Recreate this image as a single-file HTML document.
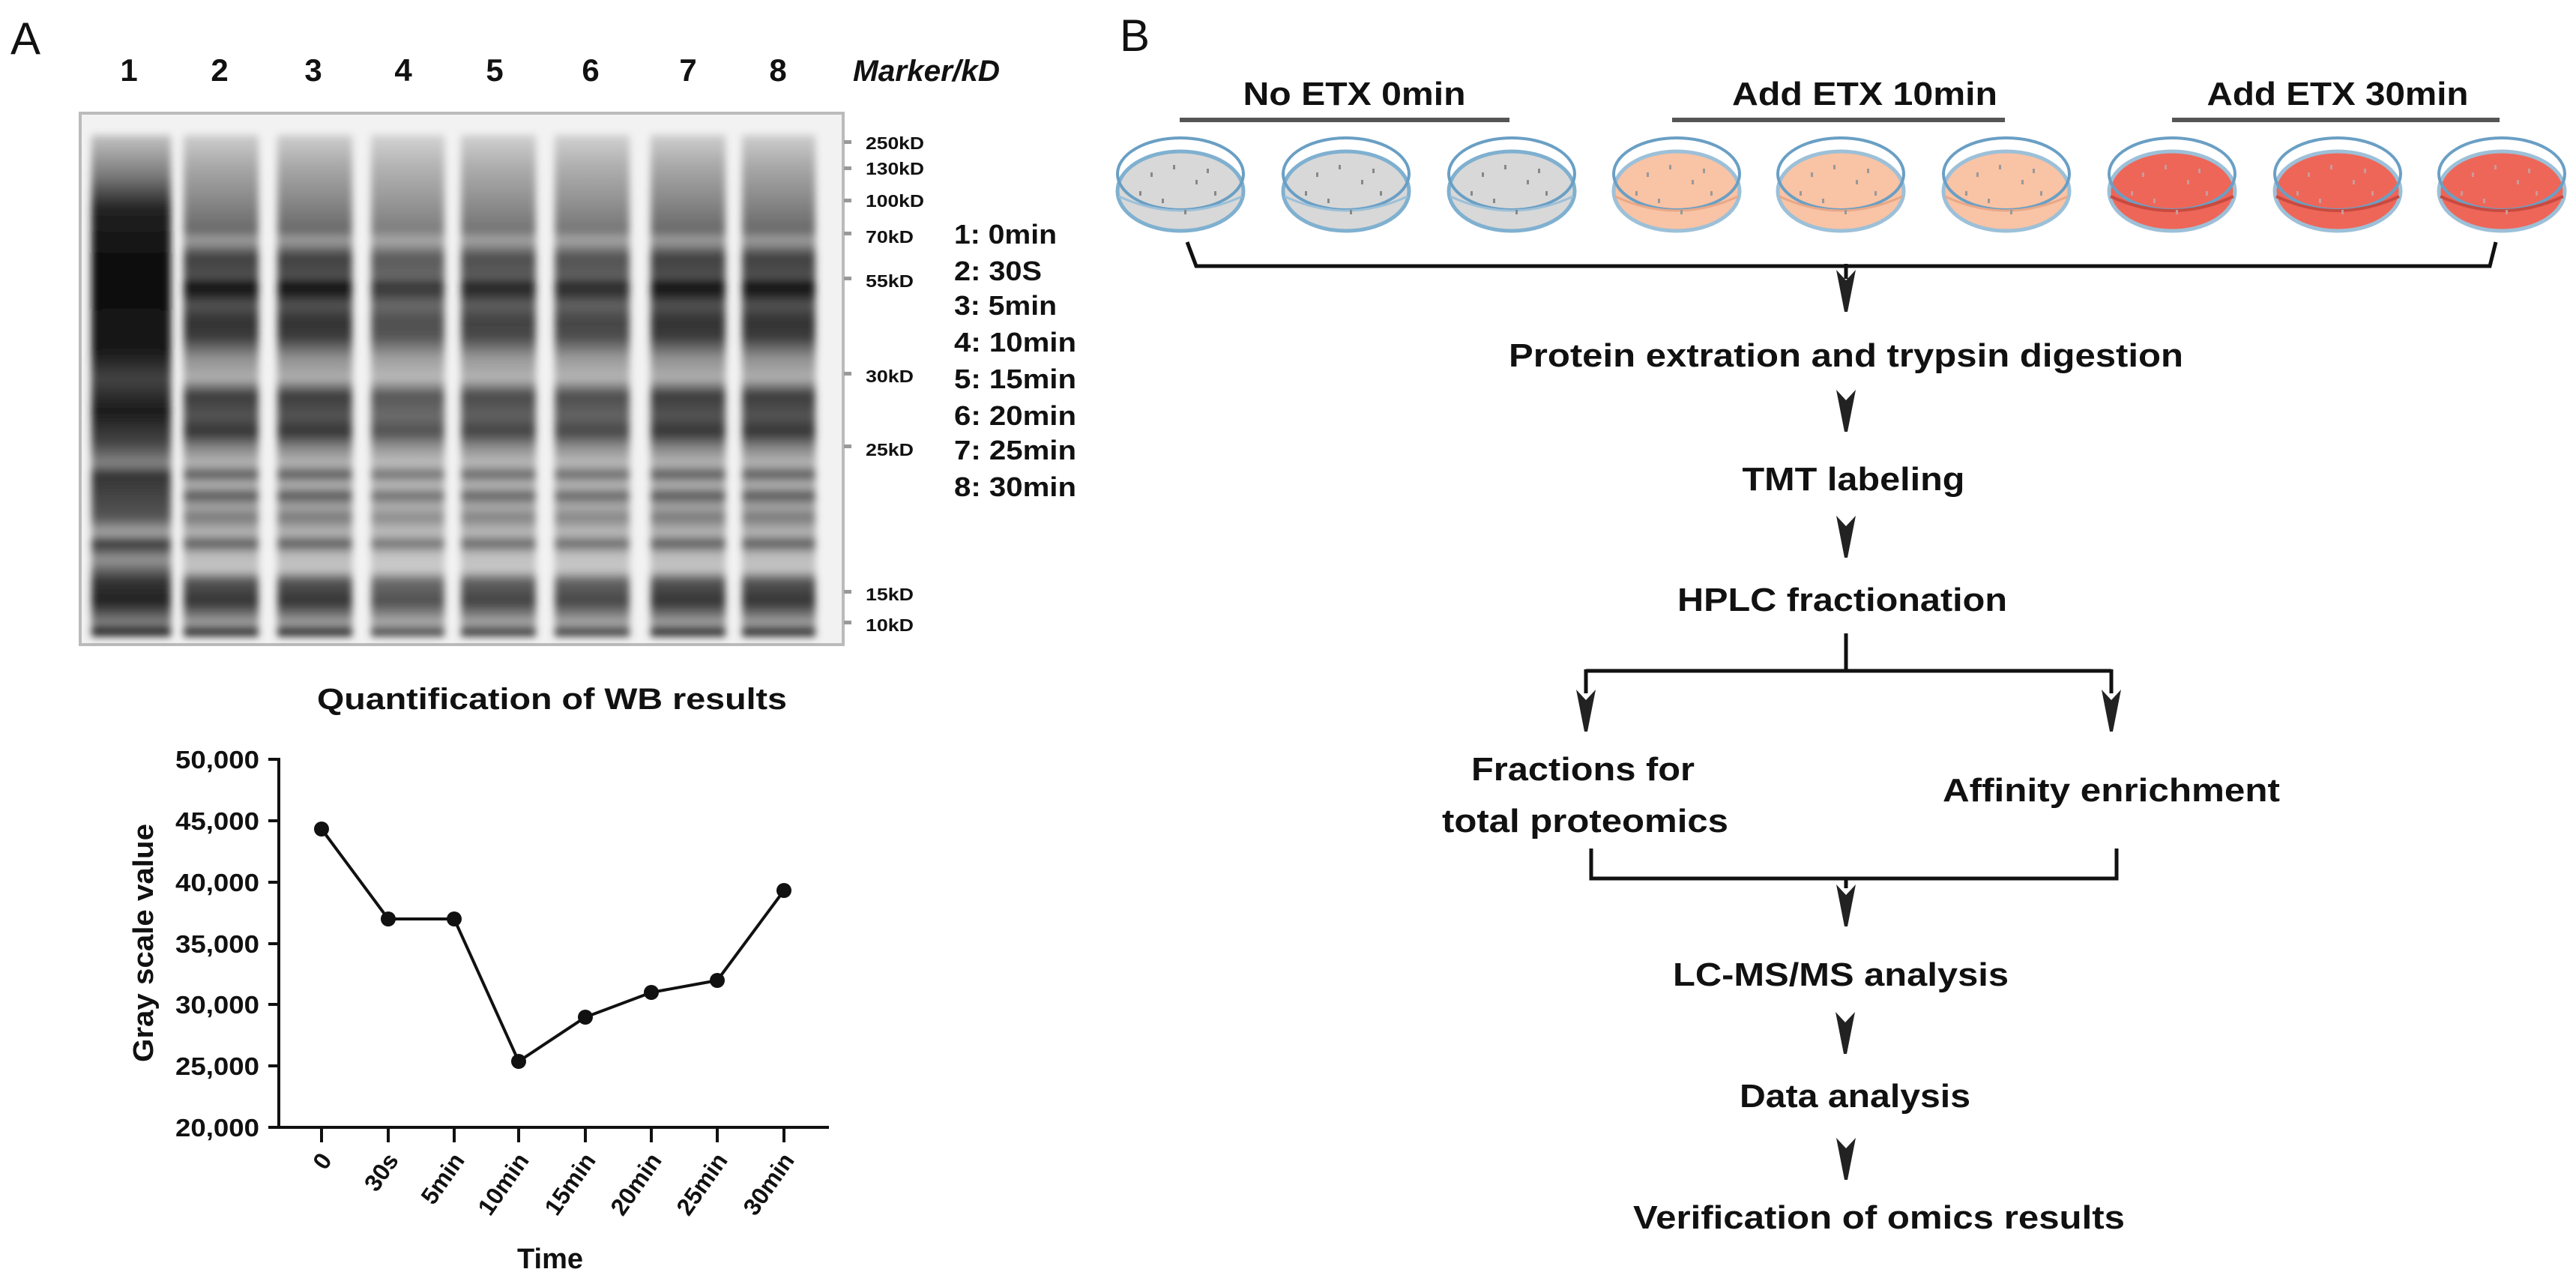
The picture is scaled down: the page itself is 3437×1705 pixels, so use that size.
<!DOCTYPE html>
<html><head><meta charset="utf-8"><style>
html,body{margin:0;padding:0;background:#fff;}
svg{display:block;}
text{font-family:"Liberation Sans",Arial,sans-serif;font-weight:bold;fill:#111;}
</style></head><body>
<svg width="3437" height="1705" viewBox="0 0 3437 1705" xmlns="http://www.w3.org/2000/svg">
<defs>
<linearGradient id="lane" x1="0" y1="0" x2="0" y2="1" gradientUnits="userSpaceOnUse" gradientTransform="translate(0,151) scale(1,709)">
<stop offset="0" stop-color="#f4f4f4"/>
<stop offset="0.04" stop-color="#cfcfcf"/>
<stop offset="0.10" stop-color="#a8a8a8"/>
<stop offset="0.16" stop-color="#8a8a8a"/>
<stop offset="0.22" stop-color="#6a6a6a"/>
<stop offset="0.24" stop-color="#a0a0a0"/>
<stop offset="0.27" stop-color="#404040"/>
<stop offset="0.31" stop-color="#505050"/>
<stop offset="0.32" stop-color="#141414"/>
<stop offset="0.34" stop-color="#202020"/>
<stop offset="0.36" stop-color="#555"/>
<stop offset="0.39" stop-color="#333"/>
<stop offset="0.42" stop-color="#3a3a3a"/>
<stop offset="0.46" stop-color="#909090"/>
<stop offset="0.50" stop-color="#b0b0b0"/>
<stop offset="0.53" stop-color="#3a3a3a"/>
<stop offset="0.57" stop-color="#555"/>
<stop offset="0.60" stop-color="#333"/>
<stop offset="0.63" stop-color="#888"/>
<stop offset="0.66" stop-color="#b8b8b8"/>
<stop offset="0.68" stop-color="#555"/>
<stop offset="0.70" stop-color="#bbb"/>
<stop offset="0.72" stop-color="#505050"/>
<stop offset="0.74" stop-color="#aaa"/>
<stop offset="0.76" stop-color="#777"/>
<stop offset="0.79" stop-color="#bbb"/>
<stop offset="0.81" stop-color="#555"/>
<stop offset="0.83" stop-color="#bbb"/>
<stop offset="0.86" stop-color="#c4c4c4"/>
<stop offset="0.88" stop-color="#555"/>
<stop offset="0.92" stop-color="#333"/>
<stop offset="0.95" stop-color="#888"/>
<stop offset="0.96" stop-color="#aaa"/>
<stop offset="0.975" stop-color="#222"/>
<stop offset="0.99" stop-color="#777"/>
<stop offset="1" stop-color="#ddd"/>
</linearGradient>
<linearGradient id="lane1" x1="0" y1="0" x2="0" y2="1" gradientUnits="userSpaceOnUse" gradientTransform="translate(0,151) scale(1,709)">
<stop offset="0" stop-color="#eee"/>
<stop offset="0.05" stop-color="#bbb"/>
<stop offset="0.12" stop-color="#777"/>
<stop offset="0.18" stop-color="#222"/>
<stop offset="0.30" stop-color="#0a0a0a"/>
<stop offset="0.45" stop-color="#1a1a1a"/>
<stop offset="0.50" stop-color="#444"/>
<stop offset="0.56" stop-color="#1a1a1a"/>
<stop offset="0.62" stop-color="#444"/>
<stop offset="0.66" stop-color="#888"/>
<stop offset="0.68" stop-color="#333"/>
<stop offset="0.72" stop-color="#444"/>
<stop offset="0.76" stop-color="#555"/>
<stop offset="0.79" stop-color="#aaa"/>
<stop offset="0.81" stop-color="#333"/>
<stop offset="0.84" stop-color="#999"/>
<stop offset="0.88" stop-color="#333"/>
<stop offset="0.92" stop-color="#222"/>
<stop offset="0.96" stop-color="#888"/>
<stop offset="0.975" stop-color="#111"/>
<stop offset="1" stop-color="#ccc"/>
</linearGradient>
<filter id="blur" x="-10%" y="-5%" width="120%" height="110%"><feGaussianBlur stdDeviation="5"/></filter>
<g id="arrow"><path d="M-13,0 L0,14 L13,0 L2,56 L-2,56 Z" fill="#222"/></g>
</defs>

<!-- Panel A -->
<text x="14" y="72" font-size="60" style="font-weight:normal">A</text>
<g font-size="42" style="font-weight:normal" text-anchor="middle">
<text x="172" y="108">1</text><text x="293" y="108">2</text><text x="418" y="108">3</text><text x="538" y="108">4</text>
<text x="660" y="108">5</text><text x="788" y="108">6</text><text x="918" y="108">7</text><text x="1038" y="108">8</text>
</g>
<text x="1138" y="108" font-size="40" font-style="italic" textLength="196" lengthAdjust="spacingAndGlyphs">Marker/kD</text>

<!-- gel -->
<rect x="107" y="151" width="1018" height="709" fill="#f2f2f2" stroke="#bbb" stroke-width="4"/>
<g filter="url(#blur)">
<rect x="122" y="180" width="106" height="670" fill="url(#lane1)"/>
<rect x="245" y="180" width="100" height="670" fill="url(#lane)"/>
<rect x="370" y="180" width="100" height="670" fill="url(#lane)"/>
<rect x="495" y="180" width="98" height="670" fill="url(#lane)" opacity="0.85"/>
<rect x="615" y="180" width="100" height="670" fill="url(#lane)" opacity="0.92"/>
<rect x="740" y="180" width="100" height="670" fill="url(#lane)" opacity="0.9"/>
<rect x="868" y="180" width="100" height="670" fill="url(#lane)"/>
<rect x="990" y="180" width="98" height="670" fill="url(#lane)"/>
</g>
<g fill="#999">
<rect x="1126" y="187" width="10" height="5"/><rect x="1126" y="222" width="10" height="5"/><rect x="1126" y="265" width="10" height="5"/>
<rect x="1126" y="309" width="10" height="5"/><rect x="1126" y="369" width="10" height="5"/><rect x="1126" y="496" width="10" height="5"/>
<rect x="1126" y="593" width="10" height="5"/><rect x="1126" y="787" width="10" height="5"/><rect x="1126" y="828" width="10" height="5"/>
</g>
<g font-size="23" fill="#222">
<text x="1155" y="199" textLength="78" lengthAdjust="spacingAndGlyphs">250kD</text>
<text x="1155" y="233" textLength="78" lengthAdjust="spacingAndGlyphs">130kD</text>
<text x="1155" y="276" textLength="78" lengthAdjust="spacingAndGlyphs">100kD</text>
<text x="1155" y="324" textLength="64" lengthAdjust="spacingAndGlyphs">70kD</text>
<text x="1155" y="383" textLength="64" lengthAdjust="spacingAndGlyphs">55kD</text>
<text x="1155" y="510" textLength="64" lengthAdjust="spacingAndGlyphs">30kD</text>
<text x="1155" y="608" textLength="64" lengthAdjust="spacingAndGlyphs">25kD</text>
<text x="1155" y="801" textLength="64" lengthAdjust="spacingAndGlyphs">15kD</text>
<text x="1155" y="842" textLength="64" lengthAdjust="spacingAndGlyphs">10kD</text>
</g>
<g font-size="36">
<text x="1273" y="325" textLength="137" lengthAdjust="spacingAndGlyphs">1: 0min</text>
<text x="1273" y="374" textLength="117" lengthAdjust="spacingAndGlyphs">2: 30S</text>
<text x="1273" y="420" textLength="137" lengthAdjust="spacingAndGlyphs">3: 5min</text>
<text x="1273" y="469" textLength="163" lengthAdjust="spacingAndGlyphs">4: 10min</text>
<text x="1273" y="518" textLength="163" lengthAdjust="spacingAndGlyphs">5: 15min</text>
<text x="1273" y="567" textLength="163" lengthAdjust="spacingAndGlyphs">6: 20min</text>
<text x="1273" y="613" textLength="163" lengthAdjust="spacingAndGlyphs">7: 25min</text>
<text x="1273" y="662" textLength="163" lengthAdjust="spacingAndGlyphs">8: 30min</text>
</g>

<!-- chart -->
<text x="423" y="946" font-size="40" textLength="627" lengthAdjust="spacingAndGlyphs">Quantification of WB results</text>
<g stroke="#111" stroke-width="4" fill="none">
<path d="M372,1011 L372,1504 L1106,1504"/>
<path d="M358,1013 H372 M358,1095 H372 M358,1177 H372 M358,1259 H372 M358,1340 H372 M358,1422 H372 M358,1504 H372"/>
<path d="M429,1504 V1524 M518,1504 V1524 M606,1504 V1524 M692,1504 V1524 M781,1504 V1524 M869,1504 V1524 M957,1504 V1524 M1046,1504 V1524"/>
<polyline points="429,1106 518,1226 606,1226 692,1416 781,1357 869,1324 957,1308 1046,1188"/>
</g>
<g fill="#111">
<circle cx="429" cy="1106" r="10"/><circle cx="518" cy="1226" r="10"/><circle cx="606" cy="1226" r="10"/><circle cx="692" cy="1416" r="10"/>
<circle cx="781" cy="1357" r="10"/><circle cx="869" cy="1324" r="10"/><circle cx="957" cy="1308" r="10"/><circle cx="1046" cy="1188" r="10"/>
</g>
<g font-size="33" text-anchor="end">
<text x="346" y="1025" textLength="112" lengthAdjust="spacingAndGlyphs">50,000</text>
<text x="346" y="1107" textLength="112" lengthAdjust="spacingAndGlyphs">45,000</text>
<text x="346" y="1189" textLength="112" lengthAdjust="spacingAndGlyphs">40,000</text>
<text x="346" y="1271" textLength="112" lengthAdjust="spacingAndGlyphs">35,000</text>
<text x="346" y="1352" textLength="112" lengthAdjust="spacingAndGlyphs">30,000</text>
<text x="346" y="1434" textLength="112" lengthAdjust="spacingAndGlyphs">25,000</text>
<text x="346" y="1516" textLength="112" lengthAdjust="spacingAndGlyphs">20,000</text>
</g>
<text transform="translate(204,1258) rotate(-90)" font-size="38" text-anchor="middle" textLength="318" lengthAdjust="spacingAndGlyphs">Gray scale value</text>
<g font-size="32" text-anchor="end">
<text transform="translate(444,1548) rotate(-55)">0</text>
<text transform="translate(533,1548) rotate(-55)">30s</text>
<text transform="translate(621,1548) rotate(-55)">5min</text>
<text transform="translate(707,1548) rotate(-55)">10min</text>
<text transform="translate(796,1548) rotate(-55)">15min</text>
<text transform="translate(884,1548) rotate(-55)">20min</text>
<text transform="translate(972,1548) rotate(-55)">25min</text>
<text transform="translate(1061,1548) rotate(-55)">30min</text>
</g>
<text x="734" y="1692" font-size="38" text-anchor="middle" textLength="88" lengthAdjust="spacingAndGlyphs">Time</text>

<!-- Panel B -->
<text x="1494" y="68" font-size="60" style="font-weight:normal">B</text>
<g font-size="44" text-anchor="middle">
<text x="1807" y="140" textLength="297" lengthAdjust="spacingAndGlyphs">No ETX 0min</text>
<text x="2488" y="140" textLength="354" lengthAdjust="spacingAndGlyphs">Add ETX 10min</text>
<text x="3119" y="140" textLength="349" lengthAdjust="spacingAndGlyphs">Add ETX 30min</text>
</g>
<g fill="#555">
<rect x="1574" y="157" width="440" height="6"/>
<rect x="2231" y="157" width="444" height="6"/>
<rect x="2898" y="157" width="437" height="6"/>
</g>

<!-- dishes -->
<g id="dishes">
<g id="dg" transform="translate(1575,0)">
<ellipse cx="0" cy="255" rx="84" ry="53" fill="#d8d8d8" stroke="#7fb0d0" stroke-width="5"/>
<ellipse cx="0" cy="232" rx="84" ry="48" fill="none" stroke="#6a9fc4" stroke-width="4"/>
<path d="M-82,262 Q0,300 82,262" fill="none" stroke="#9cc0d8" stroke-width="3"/>
<g fill="#888"><rect x="-40" y="230" width="3" height="6"/><rect x="-10" y="220" width="3" height="6"/><rect x="20" y="240" width="3" height="6"/><rect x="45" y="255" width="3" height="6"/><rect x="-25" y="265" width="3" height="6"/><rect x="5" y="280" width="3" height="6"/><rect x="-55" y="255" width="3" height="6"/><rect x="35" y="225" width="3" height="6"/></g>
</g>
<use href="#dg" x="221"/><use href="#dg" x="442"/>
<g id="dp" transform="translate(2237,0)">
<ellipse cx="0" cy="255" rx="84" ry="53" fill="#f9c3a5" stroke="#9cc0d8" stroke-width="5"/>
<ellipse cx="0" cy="232" rx="84" ry="48" fill="none" stroke="#6a9fc4" stroke-width="4"/>
<path d="M-82,262 Q0,300 82,262" fill="none" stroke="#e8a888" stroke-width="3"/>
<g fill="#999"><rect x="-40" y="230" width="3" height="6"/><rect x="-10" y="220" width="3" height="6"/><rect x="20" y="240" width="3" height="6"/><rect x="45" y="255" width="3" height="6"/><rect x="-25" y="265" width="3" height="6"/><rect x="5" y="280" width="3" height="6"/><rect x="-55" y="255" width="3" height="6"/><rect x="35" y="225" width="3" height="6"/></g>
</g>
<use href="#dp" x="219"/><use href="#dp" x="440"/>
<g id="dr" transform="translate(2898,0)">
<ellipse cx="0" cy="255" rx="84" ry="53" fill="#ee6658" stroke="#9cc0d8" stroke-width="5"/>
<ellipse cx="0" cy="232" rx="84" ry="48" fill="none" stroke="#6a9fc4" stroke-width="4"/>
<path d="M-82,262 Q0,300 82,262" fill="none" stroke="#c84a40" stroke-width="4"/>
<g fill="#c99"><rect x="-40" y="230" width="3" height="6"/><rect x="-10" y="220" width="3" height="6"/><rect x="20" y="240" width="3" height="6"/><rect x="45" y="255" width="3" height="6"/><rect x="-25" y="265" width="3" height="6"/><rect x="5" y="280" width="3" height="6"/><rect x="-55" y="255" width="3" height="6"/><rect x="35" y="225" width="3" height="6"/></g>
</g>
<use href="#dr" x="221"/><use href="#dr" x="440"/>
</g>

<!-- flow lines -->
<g stroke="#111" stroke-width="5" fill="none">
<path d="M1584,323 L1596,355 L3322,355 L3330,323"/>
<path d="M2463,352 V372"/>
<path d="M2463,845 V895 M2116,895 H2817 M2116,893 V925 M2817,893 V925"/>
<path d="M2123,1132 V1172 H2824 V1132"/>
<path d="M2463,1172 V1185"/>
</g>
<use href="#arrow" transform="translate(2463,360)"/>
<use href="#arrow" transform="translate(2463,520)"/>
<use href="#arrow" transform="translate(2463,688)"/>
<use href="#arrow" transform="translate(2116,920)"/>
<use href="#arrow" transform="translate(2817,920)"/>
<use href="#arrow" transform="translate(2463,1180)"/>
<use href="#arrow" transform="translate(2462,1350)"/>
<use href="#arrow" transform="translate(2463,1518)"/>

<g font-size="44" text-anchor="middle">
<text x="2463" y="489" textLength="900" lengthAdjust="spacingAndGlyphs">Protein extration and trypsin digestion</text>
<text x="2473" y="654" textLength="297" lengthAdjust="spacingAndGlyphs">TMT labeling</text>
<text x="2458" y="815" textLength="440" lengthAdjust="spacingAndGlyphs">HPLC fractionation</text>
<text x="2112" y="1041" textLength="298" lengthAdjust="spacingAndGlyphs">Fractions for</text>
<text x="2115" y="1110" textLength="382" lengthAdjust="spacingAndGlyphs">total proteomics</text>
<text x="2817" y="1069" textLength="450" lengthAdjust="spacingAndGlyphs">Affinity enrichment</text>
<text x="2456" y="1315" textLength="448" lengthAdjust="spacingAndGlyphs">LC-MS/MS analysis</text>
<text x="2475" y="1477" textLength="308" lengthAdjust="spacingAndGlyphs">Data analysis</text>
<text x="2507" y="1639" textLength="656" lengthAdjust="spacingAndGlyphs">Verification of omics results</text>
</g>
</svg>
</body></html>
